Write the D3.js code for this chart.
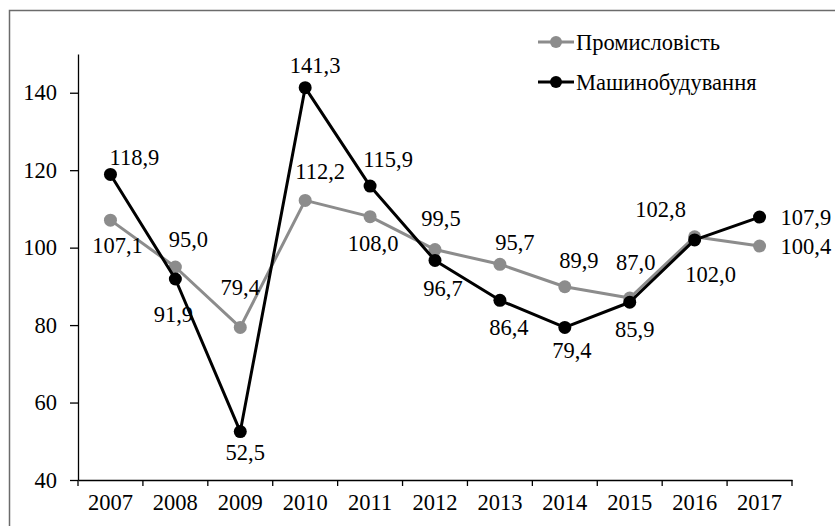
<!DOCTYPE html>
<html>
<head>
<meta charset="utf-8">
<script src="https://cdn.jsdelivr.net/npm/d3@7"></script>
<style>
    body { margin: 0; background: #fff; }
    svg text { font-family: 'Liberation Serif', 'Times New Roman', 'DejaVu Serif', serif; }
</style>
</head>
<body>
<svg id="chart"></svg>
<script>
const svgWidth = 835
const svgHeight = 526
const serif = "'Liberation Serif', 'Times New Roman', 'DejaVu Serif', serif"
const fontSize = 22.5

const years = ['2007', '2008', '2009', '2010', '2011', '2012', '2013', '2014', '2015', '2016', '2017']
const industry = [107.1, 95.0, 79.4, 112.2, 108.0, 99.5, 95.7, 89.9, 87.0, 102.8, 100.4]
const machinery = [118.9, 91.9, 52.5, 141.3, 115.9, 96.7, 86.4, 79.4, 85.9, 102.0, 107.9]
const yTicks = [40, 60, 80, 100, 120, 140]
const seriesNames = ['Промисловість', 'Машинобудування']

// label offsets from each point (dx, dy), picked by eye
const industryLabelPos = [[7, 25], [13, -28], [0, -40], [15, -29], [3, 26], [6, -31], [15, -22], [14, -27], [6, -36], [-34, -28], ['r', 0]]
const machineryLabelPos = [[24, -17], [-2, 35], [5, 21], [10, -23], [18, -27], [8, 28], [9, 27], [7, 23], [5, 27], [16, 34], ['r', 0]]

const margin = { left: 78, right: 43, top: 54, bottom: 46 }
const width = svgWidth - margin.left - margin.right
const height = svgHeight - margin.top - margin.bottom

const svg = d3.select('#chart')
    .attr('width', svgWidth)
    .attr('height', svgHeight)

// outer frame (only top and left edges are visible in the crop)
svg.append('rect')
    .attr('x', 9.5)
    .attr('y', 10.5)
    .attr('width', 1000)
    .attr('height', 1000)
    .attr('fill', 'none')
    .attr('stroke', '#6b6b6b')
    .attr('stroke-width', 1.5)

const chart = svg.append('g')
    .attr('transform', `translate(${[margin.left, margin.top]})`)

const x = d3.scaleBand()
    .domain(years)
    .range([0, width])
    .padding(0)

const y = d3.scaleLinear()
    .domain([40, 150])
    .range([height, 0])

const xAxis = chart.append('g')
    .attr('transform', `translate(0, ${height})`)
    .call(d3.axisBottom(x).tickSizeInner(0).tickSizeOuter(0).tickPadding(14))
// tick marks sit on band edges, not centres
xAxis.selectAll('.edge')
    .data(d3.range(years.length + 1))
    .join('line')
    .attr('class', 'edge')
    .attr('x1', i => i * x.step())
    .attr('x2', i => i * x.step())
    .attr('y1', 0)
    .attr('y2', 6)
    .attr('stroke', '#000')
    .attr('stroke-width', 1.3)

const yAxis = chart.append('g')
    .call(d3.axisLeft(y).tickValues(yTicks).tickSizeInner(8).tickSizeOuter(0).tickPadding(13))

chart.selectAll('g').attr('font-family', serif)
xAxis.selectAll('text').attr('font-size', fontSize).attr('fill', '#000')
yAxis.selectAll('text').attr('font-size', fontSize).attr('fill', '#000')
chart.selectAll('.domain, .tick line').attr('stroke', '#000').attr('stroke-width', 1.3)

const fmt = v => v.toFixed(1).replace('.', ',')

const drawSeries = (values, colour, labelPos) => {
    const pts = values.map((v, i) => ({ year: years[i], value: v, pos: labelPos[i] }))
    const cx = d => x(d.year) + x.bandwidth() / 2

    chart.append('path')
        .datum(pts)
        .attr('fill', 'none')
        .attr('stroke', colour)
        .attr('stroke-width', 3)
        .attr('stroke-linejoin', 'round')
        .attr('d', d3.line().x(cx).y(d => y(d.value)))

    chart.append('g')
        .selectAll('circle')
        .data(pts)
        .join('circle')
        .attr('cx', cx)
        .attr('cy', d => y(d.value))
        .attr('r', 6.5)
        .attr('fill', colour)

    chart.append('g')
        .selectAll('text')
        .data(pts)
        .join('text')
        .attr('x', d => d.pos[0] === 'r' ? cx(d) + 21 : cx(d) + d.pos[0])
        .attr('y', d => y(d.value) + d.pos[1])
        .attr('dy', '0.35em')
        .attr('text-anchor', d => d.pos[0] === 'r' ? 'start' : 'middle')
        .attr('font-family', serif)
        .attr('font-size', fontSize)
        .attr('fill', '#000')
        .text(d => fmt(d.value))
}

const colours = ['#8c8c8c', '#000000']
drawSeries(industry, colours[0], industryLabelPos)
drawSeries(machinery, colours[1], machineryLabelPos)

// legend
const legend = svg.append('g')
    .selectAll('g')
    .data(seriesNames)
    .join('g')
    .attr('transform', (d, i) => `translate(538, ${42 + i * 40})`)

legend.append('line')
    .attr('x1', 0)
    .attr('x2', 36)
    .attr('stroke', (d, i) => colours[i])
    .attr('stroke-width', 3)
legend.append('circle')
    .attr('cx', 18)
    .attr('r', 6)
    .attr('fill', (d, i) => colours[i])
legend.append('text')
    .attr('x', 38)
    .attr('dy', '0.35em')
    .attr('font-family', serif)
    .attr('font-size', fontSize)
    .attr('fill', '#000')
    .text(d => d)
</script>
</body>
</html>
